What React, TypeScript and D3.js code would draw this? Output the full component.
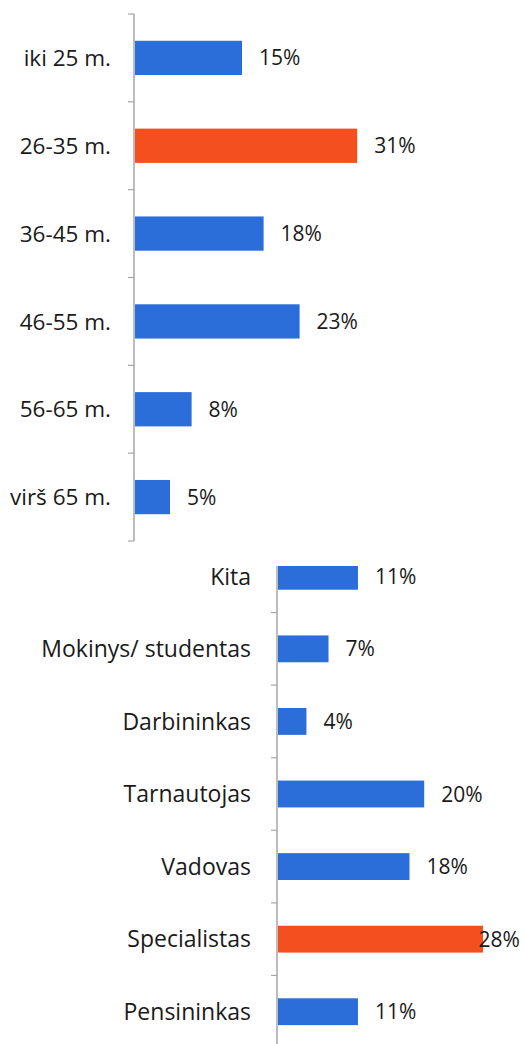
import * as d3 from 'd3';

// age groups (top chart)
const ageCategories = ['iki 25 m.', '26-35 m.', '36-45 m.', '46-55 m.', '56-65 m.', 'virš 65 m.'];
const ageValues = [15, 31, 18, 23, 8, 5];
const ageHighlight = '26-35 m.';

// occupation (bottom chart)
const jobCategories = ['Kita', 'Mokinys/ studentas', 'Darbininkas', 'Tarnautojas', 'Vadovas', 'Specialistas', 'Pensininkas'];
const jobValues = [11, 7, 4, 20, 18, 28, 11];
const jobHighlight = 'Specialistas';

const W = 524;
const H = 1044;
const BLUE = '#2b6dd9';
const ORANGE = '#f44f1e';
const FONT = '"Open Sans", sans-serif';

interface BarsProps {
  id: string;
  categories: string[];
  values: number[];
  highlight: string;
  axisX: number;
  pxPerPct: number;
  yRange: [number, number];
  barRatio: number;
  labelGap: number;
  labelFs: number;
  clipTop: number;
}

const Bars = ({ id, categories, values, highlight, axisX, pxPerPct, yRange, barRatio, labelGap, labelFs, clipTop }: BarsProps) => {
  const x = d3.scaleLinear().domain([0, 35]).range([axisX, axisX + pxPerPct * 35]);
  const y = d3.scaleBand<string>().domain(categories).range(yRange).padding(0);
  const bw = y.bandwidth();
  const barH = bw * barRatio;
  const boundaries = categories.map(c => y(c) as number).concat(yRange[1]);
  const valFs = 21;

  return (
    <g>
      <defs>
        <clipPath id={id}>
          <rect x={0} y={clipTop} width={W} height={H - clipTop} />
        </clipPath>
      </defs>
      <g clipPath={`url(#${id})`}>
        {categories.map((c, i) => {
          const y0 = (y(c) as number) + (bw - barH) / 2;
          const end = x(values[i]);
          const label = `${values[i]}%`;
          const estW = label.length * 0.66 * valFs;
          const lx = Math.min(end + 17, W - 4 - estW);
          return (
            <g key={c}>
              <rect x={x(0) + 1} y={y0} width={end - x(0) - 1} height={barH}
                fill={c === highlight ? ORANGE : BLUE} />
              <text x={lx} y={y0 + barH / 2} dy="0.36em" fontSize={valFs} fill="#1a1a1a" fontFamily={FONT}>{label}</text>
              <text x={axisX - labelGap} y={y0 + barH / 2} dy="0.36em" textAnchor="end" fontSize={labelFs}
                fill="#1a1a1a" fontFamily={FONT}>{c}</text>
            </g>
          );
        })}
        <line x1={axisX} x2={axisX} y1={yRange[0]} y2={yRange[1]} stroke="#a6a6a6" strokeWidth={1.5} />
        {boundaries.map((b, i) => (
          <line key={i} x1={axisX - 6} x2={axisX} y1={b} y2={b} stroke="#a6a6a6" strokeWidth={1.2} />
        ))}
      </g>
    </g>
  );
};

export default function App() {
  return (
    <svg width={W} height={H} style={{ position: 'absolute', left: 0, top: 0, background: '#fff' }}>
      <rect width={W} height={H} fill="#fff" />
      <Bars id="clipAge" categories={ageCategories} values={ageValues} highlight={ageHighlight}
        axisX={134} pxPerPct={7.2} yRange={[14, 541]} barRatio={0.39} labelGap={23} labelFs={22.5} clipTop={0} />
      <Bars id="clipJob" categories={jobCategories} values={jobValues} highlight={jobHighlight}
        axisX={277} pxPerPct={7.36} yRange={[540, 1048]} barRatio={0.37} labelGap={26} labelFs={23} clipTop={566} />
    </svg>
  );
}
